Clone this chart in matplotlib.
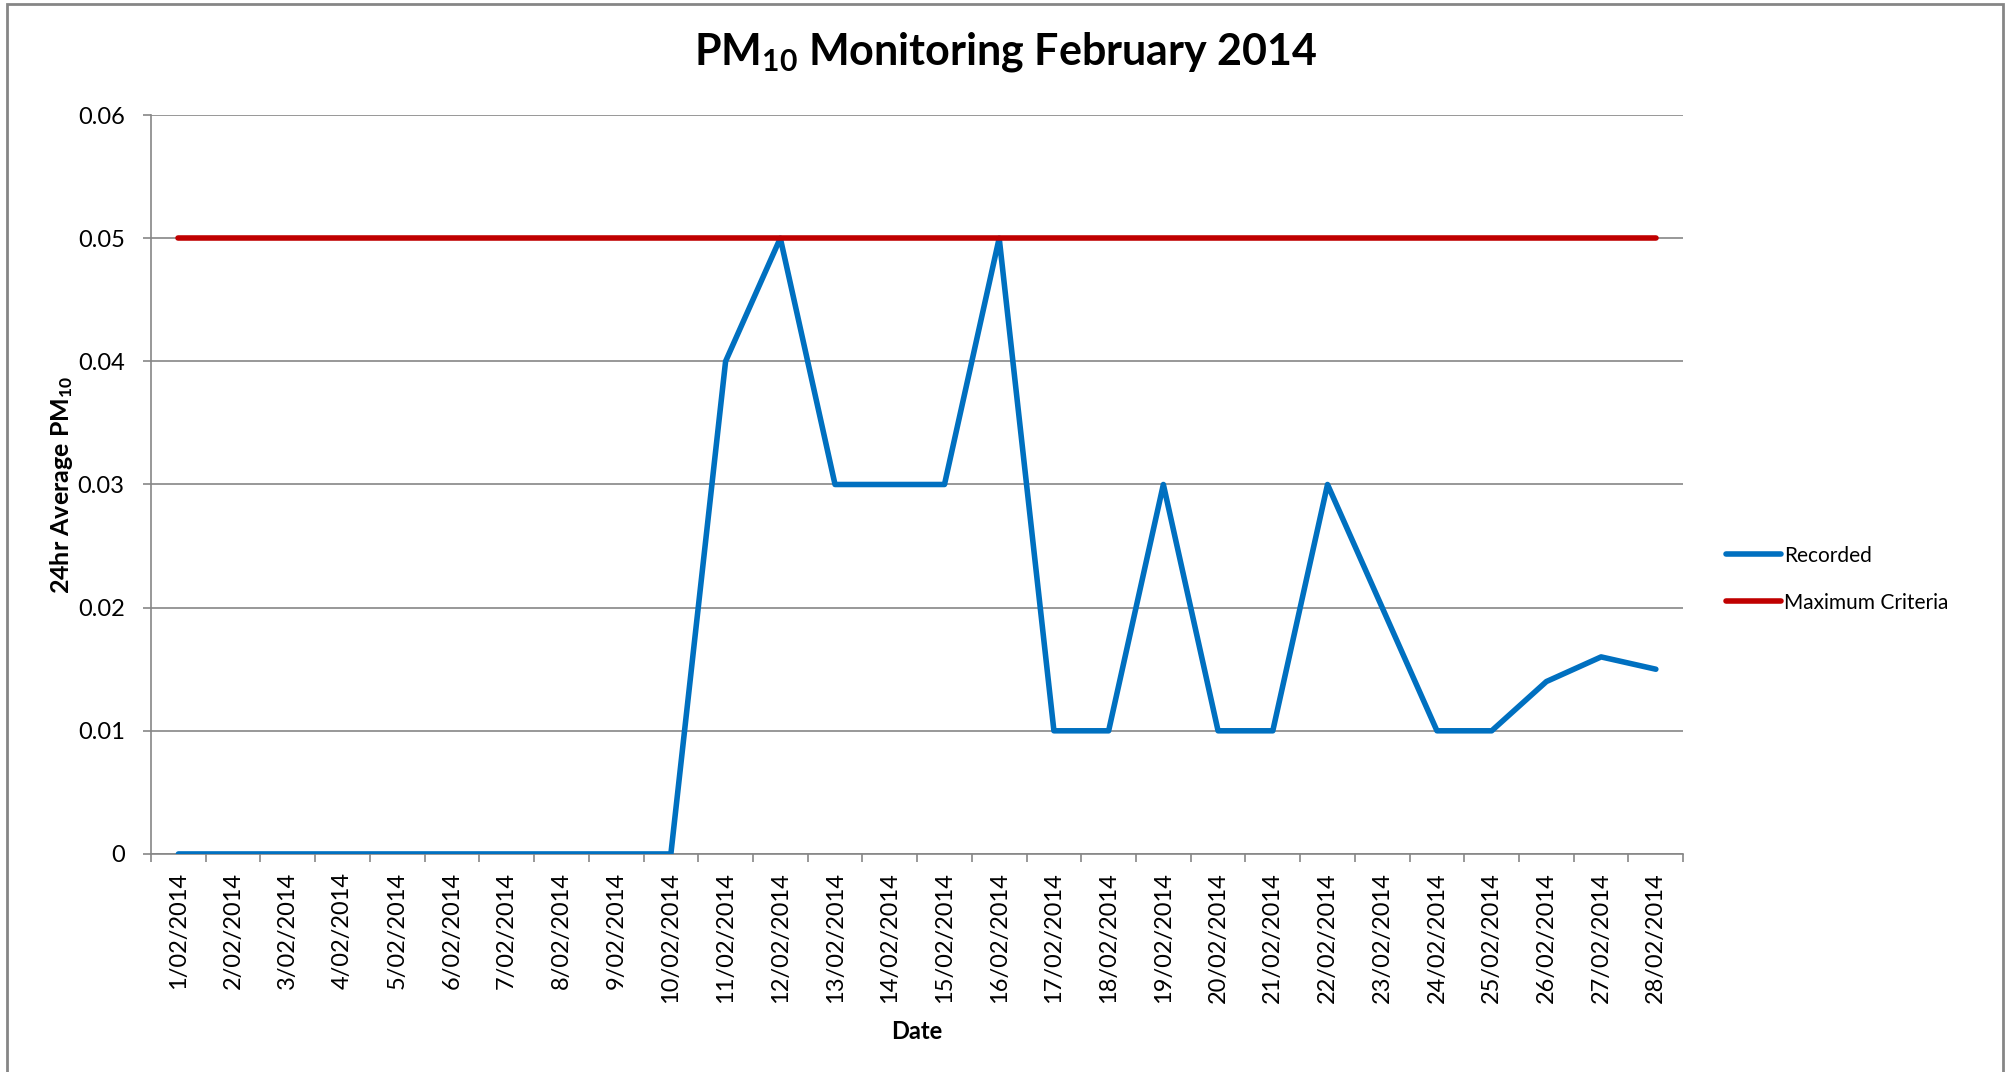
import numpy as np
import matplotlib
matplotlib.use('Agg')
from matplotlib import pyplot as plt
from matplotlib.patches import Rectangle

plt.rcParams['font.family'] = ['Lato', 'DejaVu Sans']
plt.rcParams['mathtext.default'] = 'regular'

# -------------------------------
# Data
# -------------------------------
dates = ['%d/02/2014' % d for d in range(1, 29)]
recorded = [0, 0, 0, 0, 0, 0, 0, 0, 0, 0,
            0.04, 0.05, 0.03, 0.03, 0.03, 0.05, 0.01, 0.01, 0.03, 0.01,
            0.01, 0.03, 0.02, 0.01, 0.01, 0.014, 0.016, 0.015]
max_criteria = [0.05] * 28

grey = '#868686'

fig = plt.figure(figsize=(20.11, 10.72), dpi=100)
ax = fig.add_axes([0.0751, 0.2034, 0.7619, 0.6893])

x = np.arange(len(dates))
ax.plot(x, recorded, color='#0070C0', lw=4, solid_capstyle='round', label='Recorded', zorder=3)
ax.plot(x, max_criteria, color='#C00000', lw=4, solid_capstyle='round', label='Maximum Criteria', zorder=3)

ax.set_xlim(-0.5, len(dates) - 0.5)
ax.set_ylim(0, 0.06)
ax.set_yticks([0, 0.01, 0.02, 0.03, 0.04, 0.05, 0.06])
ax.set_yticklabels(['0', '0.01', '0.02', '0.03', '0.04', '0.05', '0.06'])
ax.yaxis.grid(True, color=grey, lw=1.2)
ax.set_axisbelow(True)

ax.set_xticks(x)
ax.set_xticklabels(dates, rotation=90)
ax.set_xticks(np.arange(-0.5, len(dates), 1), minor=True)
ax.tick_params(axis='x', which='major', length=0, pad=13, labelsize=17)
ax.tick_params(axis='x', which='minor', length=6, width=1.2, color=grey)
ax.tick_params(axis='y', length=6, width=1.2, color=grey, pad=13, labelsize=17)

for s in ['top', 'right']:
    ax.spines[s].set_visible(False)
for s in ['left', 'bottom']:
    ax.spines[s].set_color(grey)
    ax.spines[s].set_linewidth(1.2)

# title is centred on the whole chart, not the plot area
fig.text(0.5, 1 - 52 / 1072, 'PM$_{10}$ Monitoring February 2014', fontsize=31,
         fontweight='bold', ha='center', va='center')
ax.set_ylabel('24hr Average PM$_{10}$', fontsize=18, fontweight='bold', labelpad=2)
ax.set_xlabel('Date', fontsize=17, fontweight='bold', labelpad=12)

leg = ax.legend(loc='center left', bbox_to_anchor=(1.016, 0.372), frameon=False, fontsize=15,
                handlelength=2.6, handletextpad=0.15, labelspacing=1.3)

# outer chart border
fig.patches.append(Rectangle((0.0035, -0.05), 0.9925, 1.046, transform=fig.transFigure,
                             fill=False, edgecolor=grey, lw=2))

plt.savefig('out.png', dpi=100)
plt.close()
